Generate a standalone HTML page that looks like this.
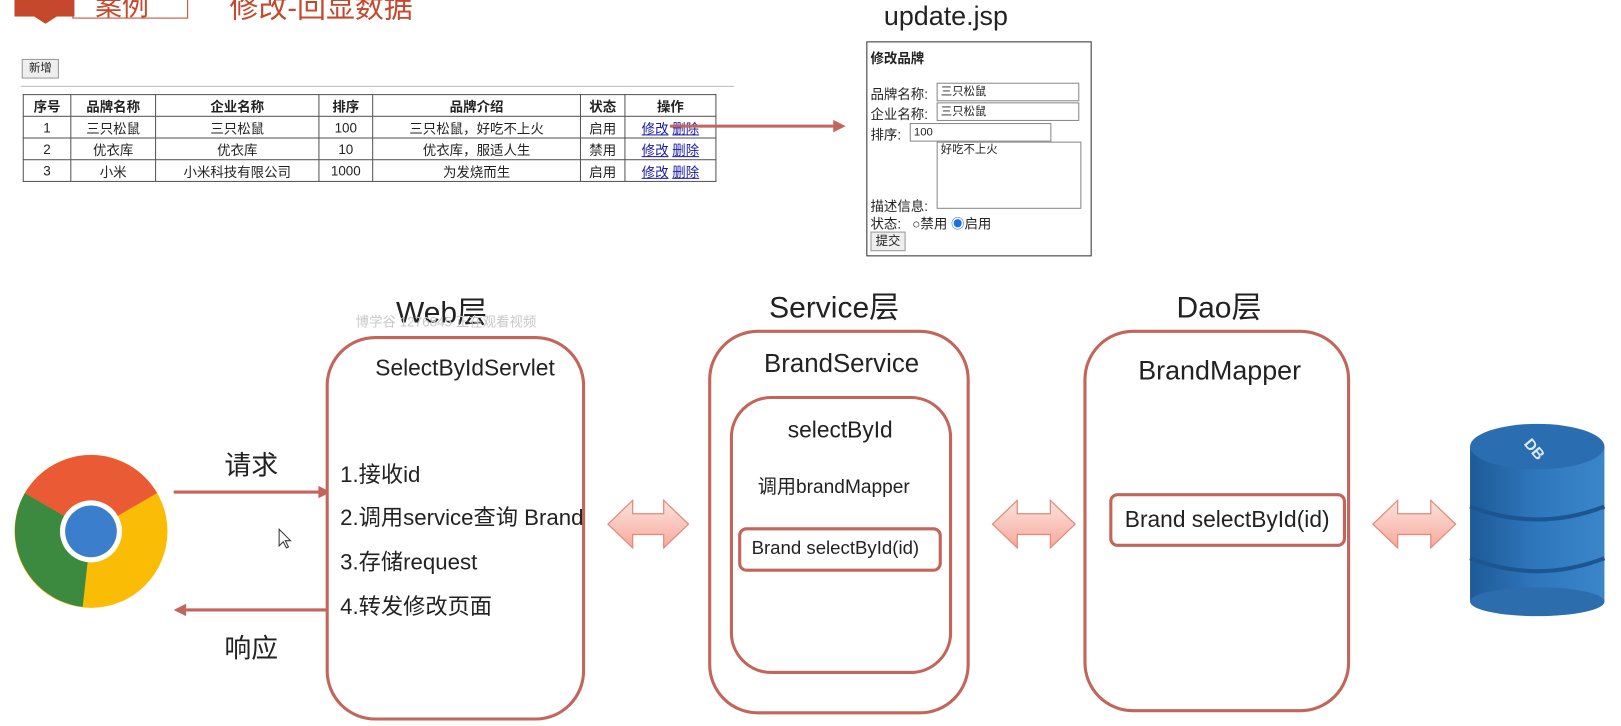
<!DOCTYPE html>
<html><head><meta charset="utf-8"><style>
*{margin:0;padding:0;box-sizing:border-box}
html,body{width:1621px;height:726px;overflow:hidden;background:#fff}
#w{width:1568px;height:702px;position:relative;transform:scale(1.0338);transform-origin:0 0;font-family:"Liberation Sans","Noto Sans CJK SC",sans-serif;color:#222}
.a{position:absolute;white-space:nowrap}
.box{position:absolute;border:3px solid #c3655a;background:#fff}
table{border-collapse:collapse;position:absolute;left:22px;top:91px;font-size:13px}
td,th{border:1px solid #555;height:21px;text-align:center;padding:0}
th{font-weight:bold}
a{color:#1a1aa6;text-decoration:underline}
.inp{position:absolute;border:1px solid #888;background:#fff;font-size:11px;padding-left:3px;line-height:16px;height:18px}
.f{font-size:13px}
</style></head><body><div id="w">
<div class="a" style="left:14px;top:-10px;width:58px;height:26px;background:#c5482d"></div>
<div class="a" style="left:30px;top:14px;width:0;height:0;border-left:14px solid transparent;border-right:14px solid transparent;border-top:9px solid #c5482d"></div>
<div class="a" style="left:70px;top:-14px;width:112px;height:32px;border:1px solid #c5482d"></div>
<div class="a" style="left:92px;top:-14px;font-size:26px;color:#c5482d">案例</div>
<div class="a" style="left:222px;top:-14px;font-size:28px;color:#c5482d">修改-回显数据</div>

<div class="a" style="left:21px;top:57px;width:36px;height:19px;border:1px solid #999;background:#eee;font-size:11px;text-align:center;line-height:17px">新增</div>
<div class="a" style="left:20px;top:83px;width:690px;height:1px;background:#bbb"></div>
<table>
<tr><th style="width:46px">序号</th><th style="width:82px">品牌名称</th><th style="width:158px">企业名称</th><th style="width:52px">排序</th><th style="width:201px">品牌介绍</th><th style="width:43px">状态</th><th style="width:88px">操作</th></tr>
<tr><td>1</td><td>三只松鼠</td><td>三只松鼠</td><td>100</td><td>三只松鼠，好吃不上火</td><td>启用</td><td><a>修改</a> <a>删除</a></td></tr>
<tr><td>2</td><td>优衣库</td><td>优衣库</td><td>10</td><td>优衣库，服适人生</td><td>禁用</td><td><a>修改</a> <a>删除</a></td></tr>
<tr><td>3</td><td>小米</td><td>小米科技有限公司</td><td>1000</td><td>为发烧而生</td><td>启用</td><td><a>修改</a> <a>删除</a></td></tr>
</table>

<svg class="a" style="left:0;top:0" width="1568" height="702">
<line x1="648" y1="122" x2="808" y2="122" stroke="#c3655a" stroke-width="3"/>
<polygon points="818,122 806,116 806,128" fill="#c3655a"/>
<line x1="168" y1="476" x2="310" y2="476" stroke="#c3655a" stroke-width="3"/>
<polygon points="320,476 308,470 308,482" fill="#c3655a"/>
<line x1="180" y1="590" x2="318" y2="590" stroke="#c3655a" stroke-width="3"/>
<polygon points="168,590 180,584 180,596" fill="#c3655a"/>
<defs><linearGradient id="dg" x1="0" y1="0" x2="0" y2="1"><stop offset="0" stop-color="#fde3de"/><stop offset="1" stop-color="#f6a99c"/></linearGradient>
<linearGradient id="db" x1="0" x2="1"><stop offset="0" stop-color="#1e5a98"/><stop offset=".5" stop-color="#2f77bd"/><stop offset="1" stop-color="#3a86c9"/></linearGradient></defs>
<g fill="url(#dg)" stroke="#e18a7c" stroke-width="1.2">
<polygon points="588,507 612,484 612,497 642,497 642,484 666,507 642,530 642,517 612,517 612,530"/>
<polygon points="960,507 984,484 984,497 1016,497 1016,484 1040,507 1016,530 1016,517 984,517 984,530"/>
<polygon points="1328,507 1352,484 1352,497 1384,497 1384,484 1408,507 1384,530 1384,517 1352,517 1352,530"/>
</g>
<g transform="translate(88,514)">
<circle r="74" fill="#fbbc05"/>
<path d="M0,0 L-64,-37 A74,74 0 0 1 64,-37 Z" fill="#ea5a35"/>
<path d="M0,0 L-64,-37 A74,74 0 0 0 -8,73 Z" fill="#3c8a3f"/>
<path d="M0,0 L64,-37 L74,0 Z" fill="#fbbc05"/>
<circle r="30" fill="#fff"/><circle r="25" fill="#3b7fcc"/>
</g>
<rect x="1422" y="432" width="130" height="150" fill="url(#db)"/>
<ellipse cx="1487" cy="582" rx="65" ry="14" fill="#2c6dae"/>
<ellipse cx="1487" cy="432" rx="65" ry="22" fill="#2a6db0"/>
<path d="M1422,490 Q1487,515 1552,490" stroke="#1d5590" stroke-width="4" fill="none"/>
<path d="M1422,540 Q1487,565 1552,540" stroke="#1d5590" stroke-width="4" fill="none"/>
<text x="1476" y="440" fill="#dbe9f7" font-size="15" font-weight="bold" transform="rotate(50 1486 432)" font-family="Liberation Sans">DB</text>
<path d="M270,512 l0,16 l4,-4 l3,6 l2,-1 l-3,-6 l5,0 z" fill="#fff" stroke="#333"/>
</svg>

<div class="a" style="left:855px;top:0px;font-size:26px">update.jsp</div>
<div class="a" style="left:838px;top:40px;width:218px;height:208px;border:1px solid #333"></div>
<div class="a f" style="left:842px;top:46px;font-weight:bold">修改品牌</div>
<div class="a f" style="left:842px;top:81px">品牌名称:</div><div class="inp" style="left:906px;top:80px;width:138px">三只松鼠</div>
<div class="a f" style="left:842px;top:100px">企业名称:</div><div class="inp" style="left:906px;top:99px;width:138px">三只松鼠</div>
<div class="a f" style="left:842px;top:120px">排序:</div><div class="inp" style="left:880px;top:119px;width:137px">100</div>
<div class="inp" style="left:906px;top:137px;width:140px;height:65px;line-height:15px">好吃不上火</div>
<div class="a f" style="left:842px;top:189px">描述信息:</div>
<div class="a f" style="left:842px;top:206px">状态: &nbsp;&nbsp;○禁用 <span style="color:#1a6fe0">◉</span>启用</div>
<div class="a" style="left:842px;top:224px;width:34px;height:19px;border:1px solid #999;background:#eee;font-size:12px;text-align:center;line-height:17px">提交</div>

<div class="a" style="left:383px;top:279px;font-size:29px">Web层</div>
<div class="a" style="left:344px;top:301px;font-size:13px;color:#c8c8c8">博学谷 1276845 正在观看视频</div>
<div class="a" style="left:744px;top:274px;font-size:29px">Service层</div>
<div class="a" style="left:1138px;top:274px;font-size:29px">Dao层</div>

<div class="box" style="left:315px;top:325px;width:251px;height:372px;border-radius:48px"></div>
<div class="a" style="left:363px;top:343px;font-size:22px">SelectByIdServlet</div>
<div class="a" style="left:329px;top:442px;font-size:21.5px">1.接收id</div>
<div class="a" style="left:329px;top:484px;font-size:21.5px">2.调用service查询 Brand</div>
<div class="a" style="left:329px;top:527px;font-size:21.5px">3.存储request</div>
<div class="a" style="left:329px;top:570px;font-size:21.5px">4.转发修改页面</div>
<div class="a" style="left:217px;top:430px;font-size:26px">请求</div>
<div class="a" style="left:217px;top:607px;font-size:26px">响应</div>

<div class="box" style="left:685px;top:319px;width:253px;height:372px;border-radius:48px"></div>
<div class="a" style="left:739px;top:338px;font-size:25px">BrandService</div>
<div class="box" style="left:706px;top:383px;width:215px;height:269px;border-radius:40px"></div>
<div class="a" style="left:762px;top:403px;font-size:22px">selectById</div>
<div class="a" style="left:733px;top:457px;font-size:18.5px">调用brandMapper</div>
<div class="box" style="left:714px;top:510px;width:197px;height:43px;border-radius:8px"></div>
<div class="a" style="left:727px;top:520px;font-size:18px">Brand selectById(id)</div>

<div class="box" style="left:1048px;top:319px;width:258px;height:370px;border-radius:48px"></div>
<div class="a" style="left:1101px;top:343px;font-size:26px">BrandMapper</div>
<div class="box" style="left:1073px;top:477px;width:229px;height:52px;border-radius:8px"></div>
<div class="a" style="left:1088px;top:490px;font-size:22px">Brand selectById(id)</div>
</div></body></html>
